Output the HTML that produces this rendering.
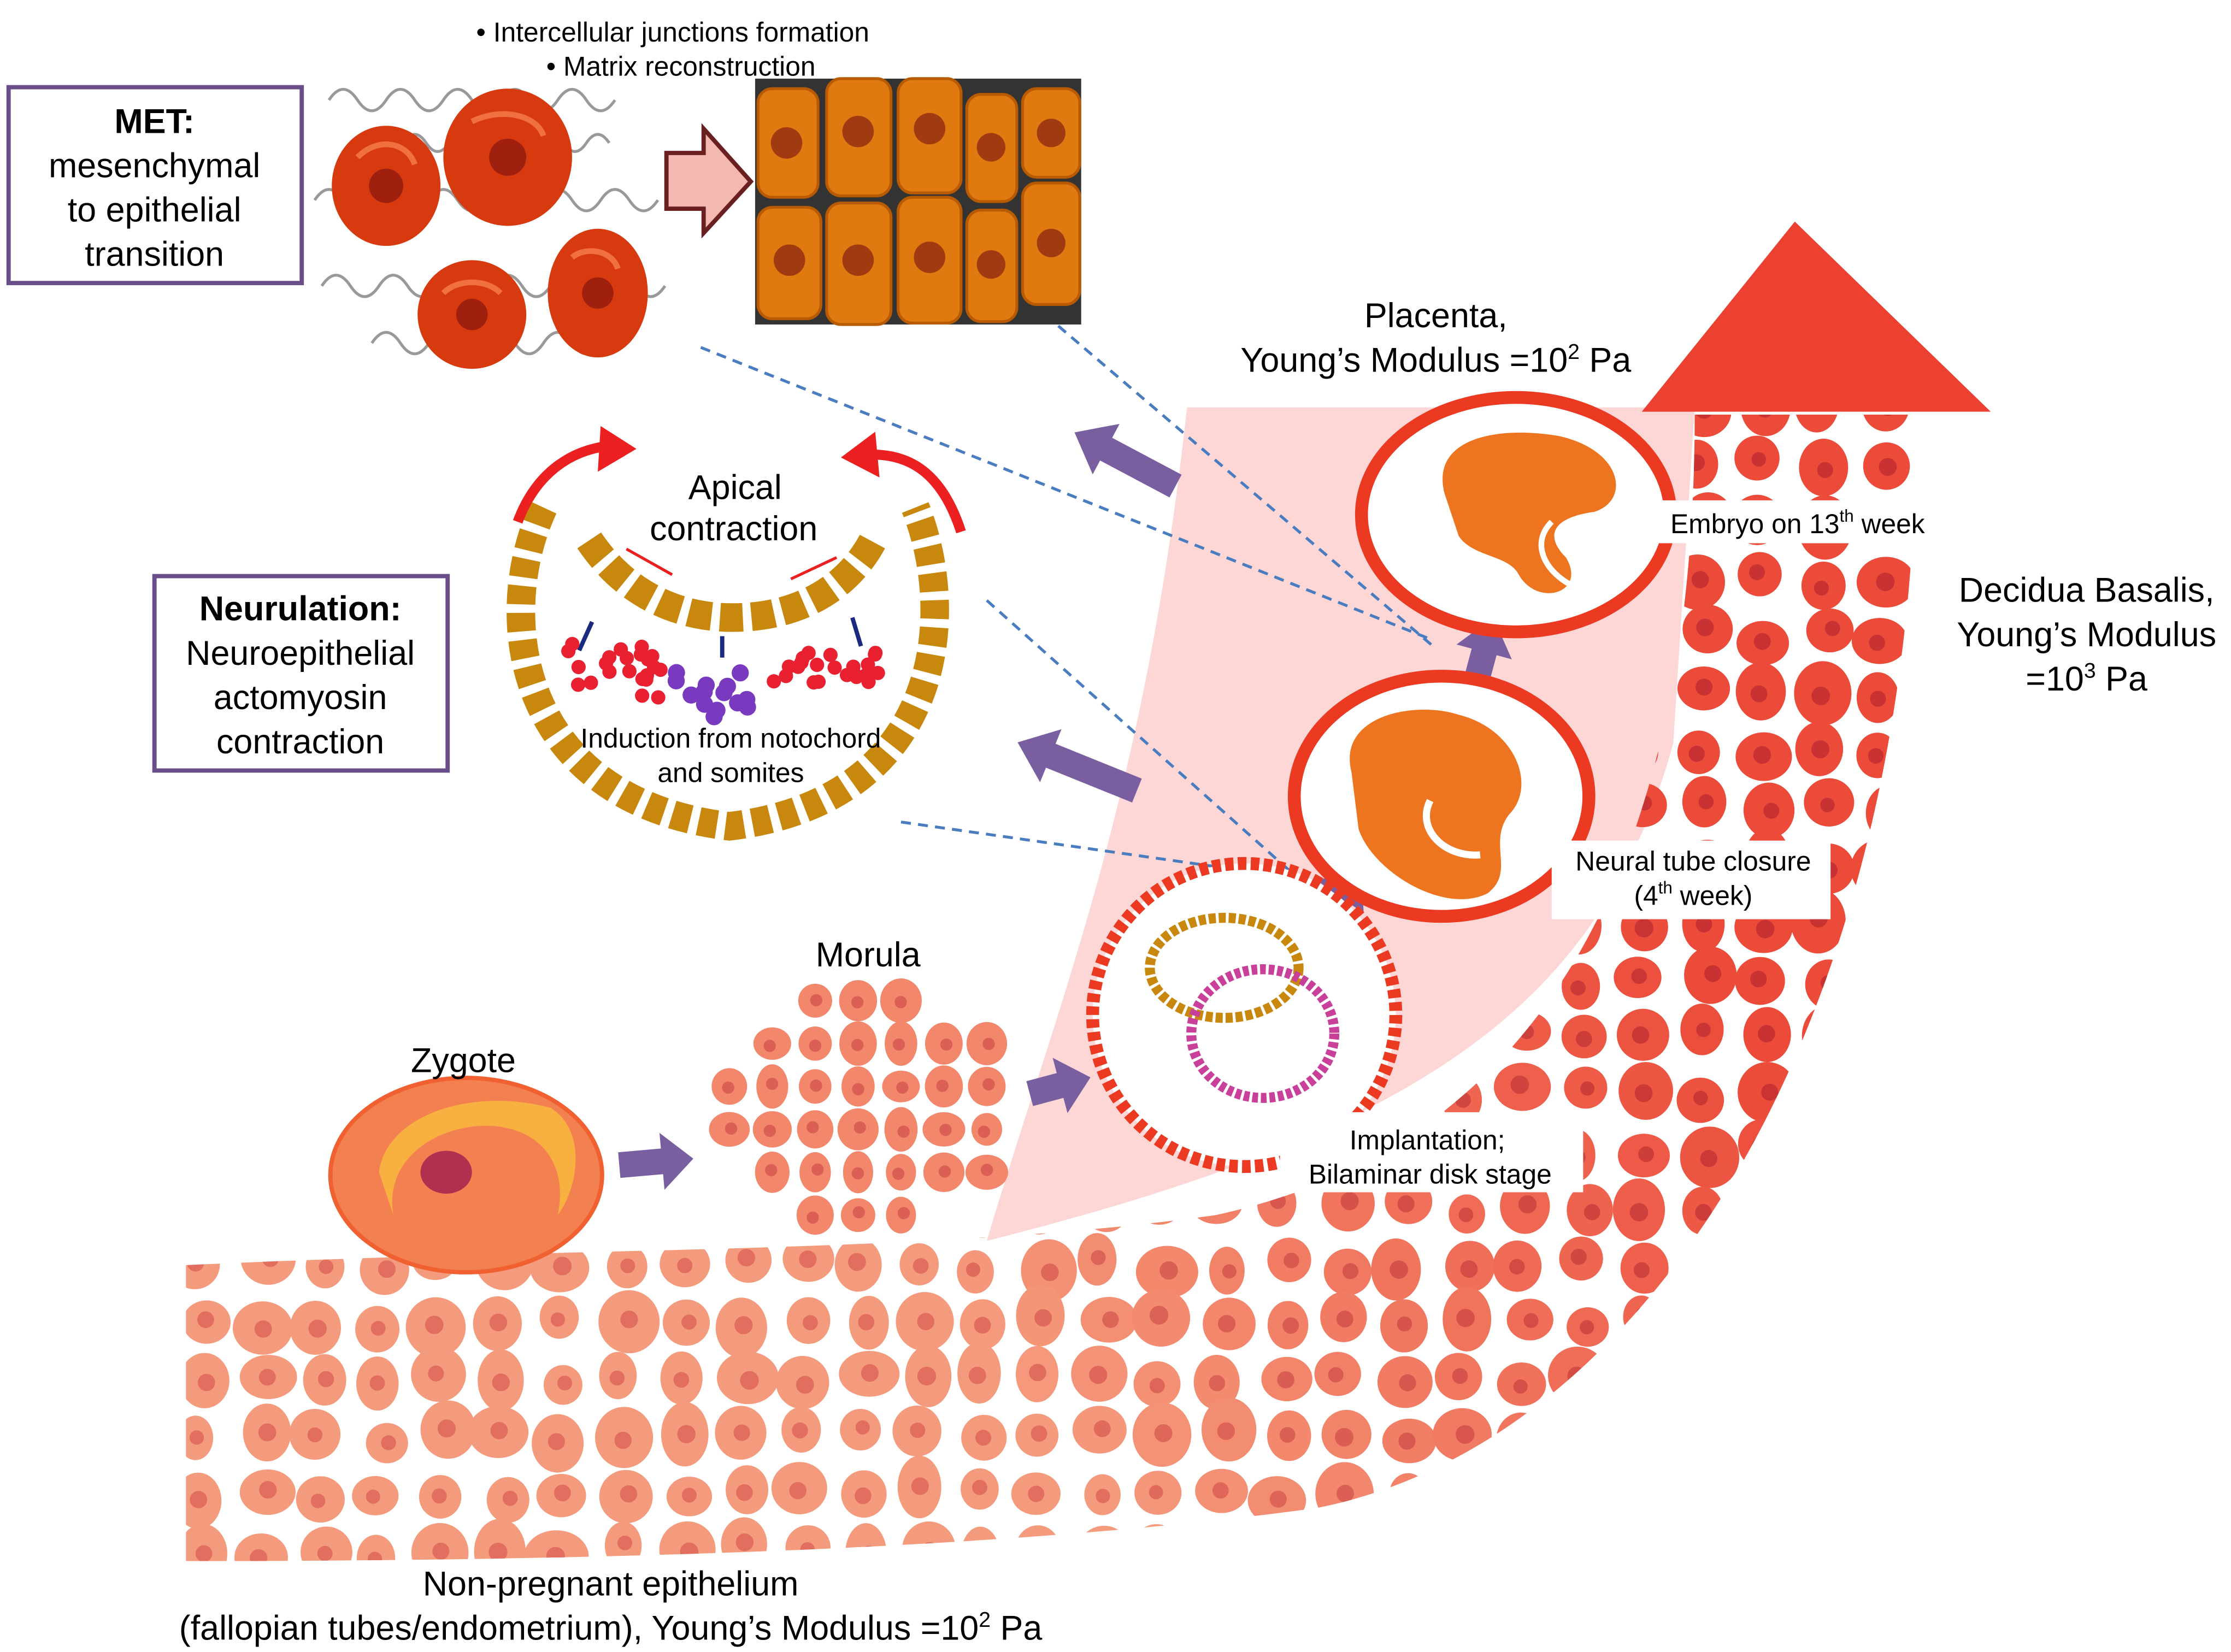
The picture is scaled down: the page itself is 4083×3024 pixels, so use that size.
<!DOCTYPE html>
<html><head><meta charset="utf-8"><style>
html,body{margin:0;padding:0;background:#fff;width:4083px;height:3024px;overflow:hidden}
svg{display:block}
text{font-family:"Liberation Sans","DejaVu Sans",sans-serif;fill:#000}
</style></head><body>
<svg id="s" width="4083" height="3024" viewBox="0 0 1560 1155.6" preserveAspectRatio="none" xmlns="http://www.w3.org/2000/svg">
<defs>
<clipPath id="bandclip"><path id="bandp" d="M130,885 C400,872 650,878 850,850 C1080,800 1185,600 1185,290 L1340,290 C1340,720 1150,1010 920,1055 C700,1085 400,1092 130,1092 Z"/></clipPath>
</defs>
<path d="M830,285 L1185,285 L1170,520 C1120,700 1000,790 690,868 C740,700 800,560 830,285 Z" fill="#fdd6d6"/>
<polygon points="1148,288 1255,155 1392,288" fill="#ec4030"/>
<g id="cells" clip-path="url(#bandclip)"></g>
<g stroke="#4a7cc0" stroke-width="2" stroke-dasharray="7,5" fill="none">
<line x1="490" y1="243" x2="1000" y2="447"/>
<line x1="740" y1="228" x2="1002" y2="452"/>
<line x1="690" y1="420" x2="905" y2="612"/>
<line x1="630" y1="575" x2="905" y2="614"/>
</g>
<g fill="#7a5fa0">
<polygon points="0,-9 30,-9 30,-20 52,0 30,20 30,9 0,9" transform="translate(433,815) rotate(-5)"/>
<polygon points="0,-9 22,-9 22,-20 44,0 22,20 22,9 0,9" transform="translate(720,765) rotate(-15)"/>
<polygon points="0,-9 30,-9 30,-20 55,0 30,20 30,9 0,9" transform="translate(920,652) rotate(-55)"/>
<polygon points="0,-9 30,-9 30,-20 55,0 30,20 30,9 0,9" transform="translate(1030,485) rotate(-75)"/>
<polygon points="0,-9 55,-9 55,-20 80,0 55,20 55,9 0,9" transform="translate(822,340) rotate(208)"/>
<polygon points="0,-9 65,-9 65,-20 90,0 65,20 65,9 0,9" transform="translate(795,553) rotate(202)"/>
</g>
<ellipse cx="1060" cy="360" rx="108" ry="82" fill="#fff" stroke="#ec3a22" stroke-width="9"/>
<path d="M1010,345 C1000,305 1050,298 1090,305 C1135,315 1140,350 1115,358 C1085,362 1080,375 1095,390 C1110,415 1075,425 1062,402 C1055,388 1030,390 1020,375 Z" fill="#ee7520"/>
<path d="M1085,365 C1070,380 1080,400 1100,410" fill="none" stroke="#fff" stroke-width="4"/>
<rect x="1160" y="350" width="200" height="30" fill="#fff"/>
<text x="1168" y="373" font-size="19">Embryo on 13<tspan font-size="12" dy="-8">th</tspan><tspan dy="8"> week</tspan></text>
<ellipse cx="1008" cy="557" rx="103" ry="84" fill="#fff" stroke="#ec3a22" stroke-width="9"/>
<path d="M945,540 C935,500 990,490 1020,500 C1060,510 1075,550 1055,570 C1040,590 1060,610 1040,625 C1010,640 960,610 950,580 Z" fill="#ee7520"/>
<path d="M1000,560 C990,580 1010,600 1035,598" fill="none" stroke="#fff" stroke-width="5"/>
<rect x="1085" y="588" width="195" height="55" fill="#fff"/>
<text x="1184" y="609" font-size="19" text-anchor="middle">Neural tube closure</text>
<text x="1184" y="633" font-size="19" text-anchor="middle">(4<tspan font-size="12" dy="-8">th</tspan><tspan dy="8"> week)</tspan></text>
<circle cx="870" cy="710" r="106" fill="#fff" stroke="#ec3a22" stroke-width="9" stroke-dasharray="6,3"/>
<ellipse cx="856" cy="677" rx="52" ry="35" fill="none" stroke="#c8880e" stroke-width="7" stroke-dasharray="5,2"/>
<ellipse cx="883" cy="723" rx="50" ry="45" fill="none" stroke="#c8409a" stroke-width="7" stroke-dasharray="4,2"/>
<rect x="895" y="778" width="212" height="56" fill="#fff"/>
<text x="998" y="804" font-size="19" text-anchor="middle">Implantation;</text>
<text x="1000" y="828" font-size="19" text-anchor="middle">Bilaminar disk stage</text>
<ellipse cx="326" cy="822" rx="95" ry="68" fill="#f38050" stroke="#f06030" stroke-width="3"/>
<path d="M265,820 C270,780 330,760 385,775 C410,790 405,830 390,850 C400,800 360,780 320,790 C290,798 270,820 275,850 Z" fill="#f8b040"/>
<ellipse cx="312" cy="820" rx="18" ry="15" fill="#b03050"/>
<text x="324" y="750" font-size="24" text-anchor="middle">Zygote</text>
<ellipse cx="605" cy="777" rx="110" ry="85" fill="#fff"/>
<g id="morula"></g>
<text x="607" y="676" font-size="24" text-anchor="middle">Morula</text>
<path d="M380,355 C345,430 360,560 510,578 C660,560 670,430 640,355" fill="none" stroke="#c8880e" stroke-width="20" stroke-dasharray="13,6"/>
<path d="M412,378 C440,420 480,432 512,432 C560,432 595,410 612,375" fill="none" stroke="#c8880e" stroke-width="20" stroke-dasharray="16,6"/>
<g fill="none" stroke="#ec2020" stroke-width="7"><path d="M362,365 C375,330 400,315 425,312"/><path d="M672,372 C660,335 640,318 610,318"/></g>
<polygon points="420,298 445,314 418,330" fill="#ec2020"/><polygon points="612,302 588,320 615,334" fill="#ec2020"/>
<g stroke="#ec2020" stroke-width="2"><line x1="438" y1="384" x2="470" y2="402"/><line x1="585" y1="390" x2="553" y2="405"/></g>
<g stroke="#1a2a80" stroke-width="3"><line x1="405" y1="455" x2="414" y2="435"/><line x1="505" y1="460" x2="505" y2="445"/><line x1="602" y1="452" x2="596" y2="432"/></g>
<g id="dots"></g>
<text x="514" y="349" font-size="24" text-anchor="middle">Apical</text>
<text x="513" y="378" font-size="24" text-anchor="middle">contraction</text>
<text x="511" y="523" font-size="19" text-anchor="middle">Induction from notochord</text>
<text x="511" y="547" font-size="19" text-anchor="middle">and somites</text>
<rect x="6" y="61" width="205" height="137" fill="#fff" stroke="#6a4e8a" stroke-width="3"/>
<text x="108" y="93" font-size="24" font-weight="bold" text-anchor="middle">MET:</text>
<text x="108" y="124" font-size="24" text-anchor="middle">mesenchymal</text>
<text x="108" y="155" font-size="24" text-anchor="middle">to epithelial</text>
<text x="108" y="186" font-size="24" text-anchor="middle">transition</text>
<rect x="108" y="403" width="205" height="136" fill="#fff" stroke="#6a4e8a" stroke-width="3"/>
<text x="210" y="434" font-size="24" font-weight="bold" text-anchor="middle">Neurulation:</text>
<text x="210" y="465" font-size="24" text-anchor="middle">Neuroepithelial</text>
<text x="210" y="496" font-size="24" text-anchor="middle">actomyosin</text>
<text x="210" y="527" font-size="24" text-anchor="middle">contraction</text>
<g fill="none" stroke="#999" stroke-width="2">
<path d="M230,70 q10,-15 20,0 t20,0 t20,0 t20,0 t20,0 t20,0 t20,0 t20,0 t20,0 t20,0"/>
<path d="M220,140 q10,-15 20,0 t20,0 t20,0 t20,0 t20,0 t20,0 t20,0 t20,0 t20,0 t20,0 t20,0 t20,0"/>
<path d="M225,200 q10,-15 20,0 t20,0 t20,0 t20,0 t20,0 t20,0 t20,0 t20,0 t20,0 t20,0 t20,0 t20,0"/>
<path d="M260,240 q10,-15 20,0 t20,0 t20,0 t20,0 t20,0 t20,0 t20,0 t20,0 t20,0"/>
<path d="M250,100 q8,-12 16,0 t16,0 t16,0 t16,0 t16,0 t16,0 t16,0 t16,0 t16,0 t16,0 t16,0"/>
</g>
<g fill="#d83a10"><ellipse cx="270" cy="130" rx="38" ry="42"/><ellipse cx="355" cy="110" rx="45" ry="48"/><ellipse cx="330" cy="220" rx="38" ry="38"/><ellipse cx="418" cy="205" rx="35" ry="45"/></g>
<g fill="none" stroke="#f07040" stroke-width="4"><path d="M250,110 C265,95 285,100 290,115"/><path d="M330,85 C350,75 375,80 380,95"/><path d="M310,205 C320,195 340,195 350,205"/><path d="M400,180 C410,172 428,175 432,188"/></g>
<g fill="#a02010"><circle cx="270" cy="130" r="12"/><circle cx="355" cy="110" r="13"/><circle cx="330" cy="220" r="11"/><circle cx="418" cy="205" r="11"/></g>
<polygon points="466,107 492,107 492,90 525,127 492,163 492,146 466,146" fill="#f3b8b0" stroke="#6a2020" stroke-width="3"/>
<rect x="528" y="55" width="228" height="172" fill="#333"/>
<g fill="#e07a10" stroke="#b85a00" stroke-width="2">
<rect x="530" y="62" width="42" height="76" rx="10"/><rect x="578" y="55" width="45" height="82" rx="10"/><rect x="628" y="55" width="44" height="80" rx="10"/><rect x="676" y="66" width="35" height="75" rx="10"/><rect x="715" y="62" width="40" height="62" rx="10"/>
<rect x="530" y="145" width="44" height="78" rx="10"/><rect x="578" y="142" width="45" height="85" rx="10"/><rect x="628" y="138" width="44" height="88" rx="10"/><rect x="676" y="147" width="35" height="78" rx="10"/><rect x="715" y="128" width="40" height="85" rx="10"/>
</g>
<g fill="#a03a10"><circle cx="550" cy="100" r="11"/><circle cx="600" cy="92" r="11"/><circle cx="650" cy="90" r="11"/><circle cx="693" cy="103" r="10"/><circle cx="735" cy="93" r="10"/><circle cx="552" cy="182" r="11"/><circle cx="600" cy="182" r="11"/><circle cx="650" cy="180" r="11"/><circle cx="693" cy="185" r="10"/><circle cx="735" cy="170" r="10"/></g>
<text x="333" y="29" font-size="19">• Intercellular junctions formation</text>
<text x="382" y="53" font-size="19">• Matrix reconstruction</text>
<text x="1004" y="229" font-size="24" text-anchor="middle">Placenta,</text>
<text x="1004" y="260" font-size="24" text-anchor="middle">Young’s Modulus =10<tspan font-size="15" dy="-9">2</tspan><tspan dy="9"> Pa</tspan></text>
<text x="1459" y="421" font-size="24" text-anchor="middle">Decidua Basalis,</text>
<text x="1459" y="452" font-size="24" text-anchor="middle">Young’s Modulus</text>
<text x="1459" y="483" font-size="24" text-anchor="middle">=10<tspan font-size="15" dy="-9">3</tspan><tspan dy="9"> Pa</tspan></text>
<text x="427" y="1116" font-size="24" text-anchor="middle">Non-pregnant epithelium</text>
<text x="427" y="1147" font-size="24" text-anchor="middle">(fallopian tubes/endometrium), Young’s Modulus =10<tspan font-size="15" dy="-9">2</tspan><tspan dy="9"> Pa</tspan></text>
</svg>
<script>
(function(){
var NS="http://www.w3.org/2000/svg";
var g=document.getElementById("cells"),m=document.getElementById("morula"),d=document.getElementById("dots");
var seed=7;function r(){seed=(seed*16807)%2147483647;return seed/2147483647;}
function mix(a,b,t){return a.map(function(v,i){return Math.round(v+(b[i]-v)*t)});}
function cell(par,x,y,rad,t){
 var c1=mix([245,155,125],[236,75,58],t),c2=mix([225,110,95],[200,50,50],t);
 var e=document.createElementNS(NS,"ellipse");
 e.setAttribute("cx",x);e.setAttribute("cy",y);e.setAttribute("rx",rad*(0.8+r()*0.35));e.setAttribute("ry",rad*(0.85+r()*0.35));
 e.setAttribute("fill","rgb("+c1+")");par.appendChild(e);
 var n=document.createElementNS(NS,"circle");n.setAttribute("cx",x+(r()-0.5)*4);n.setAttribute("cy",y+(r()-0.5)*4);n.setAttribute("r",rad*0.33);n.setAttribute("fill","rgb("+c2+")");par.appendChild(n);
}
function dot(x,y,rr,c){var n=document.createElementNS(NS,"circle");n.setAttribute("cx",x);n.setAttribute("cy",y);n.setAttribute("r",rr);n.setAttribute("fill",c);d.appendChild(n);}
for(var y=285;y<1100;y+=40){for(var x=120;x<1350;x+=42){
 var xx=x+((y/40)%2?21:0)+(r()-0.5)*10,yy=y+(r()-0.5)*10;
 var t=Math.min(1,Math.max(0,(xx-500)/700+(700-yy)/900));
 cell(g,xx,yy,15+r()*5,t);
}}
for(var y=700;y<865;y+=30){for(var x=495;x<720;x+=30){
 var xx=x+((y/30)%2?15:0),yy=y;var dx=(xx-605)/105,dy=(yy-777)/82;
 if(dx*dx+dy*dy<1)cell(m,xx,yy,13,0.25);
}}
for(var i=0;i<22;i++){dot(395+r()*70,455+r()*35-(r()*10),5,"#e82030");dot(540+r()*75,456+r()*22,5,"#e82030");}
for(var i=0;i<14;i++){dot(472+r()*58,470+r()*32,6,"#7a3ac0");}
})();
</script>
</body></html>
